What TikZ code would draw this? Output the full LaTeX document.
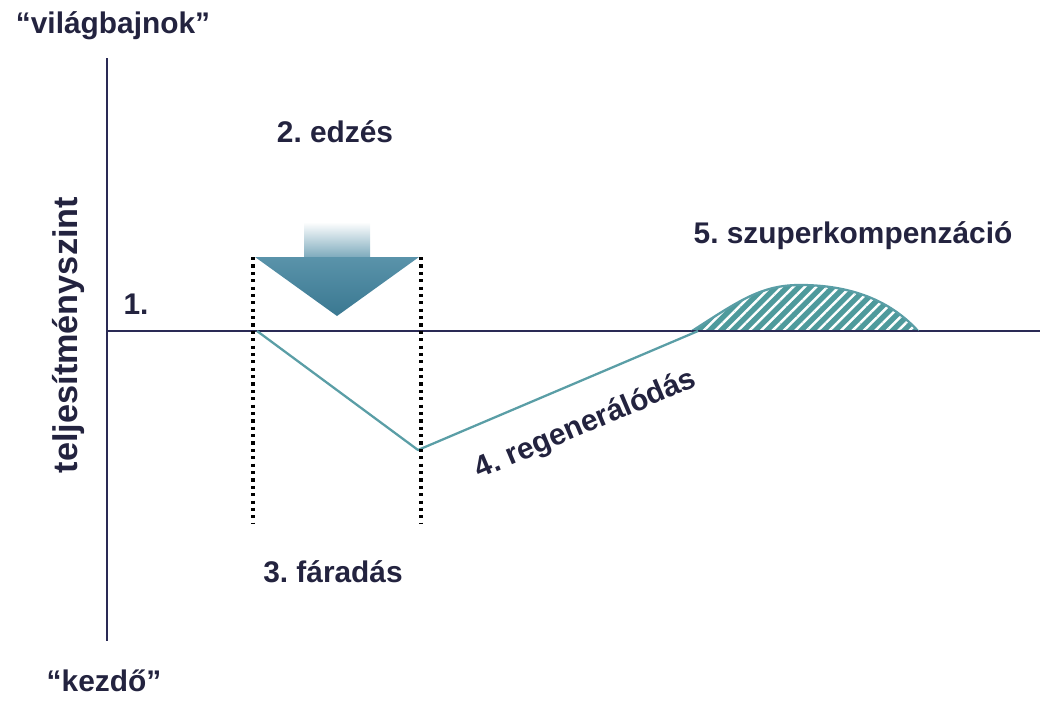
\documentclass[tikz,border=0pt]{standalone}
\usepackage{fontspec}
\setmainfont{Liberation Sans}
\usetikzlibrary{patterns.meta}
\definecolor{Navy}{HTML}{23233F}
\definecolor{Axis}{HTML}{2A2A55}
\definecolor{Teal}{HTML}{5A9EA6}
\definecolor{Hatch}{HTML}{4E9A9C}
\definecolor{ArrowTop}{HTML}{5A93AA}
\definecolor{ArrowBot}{HTML}{3A7891}
\tikzset{
    label/.style={text=Navy, font=\fontsize{17}{20}\selectfont\bfseries, anchor=base, inner sep=0pt},
    axis/.style={Axis, line width=1.7pt},
    curve/.style={Teal, line width=1.3pt, line join=round},
    guide/.style={black, line width=1.8pt, dash pattern=on 1.8pt off 2.4pt},
}

\begin{document}
\frenchspacing
\begin{tikzpicture}[x=0.02cm, y=-0.02cm]
                \useasboundingbox (0,0) rectangle (1044,703);

                % Tengelyek
                \coordinate (top) at (107,58);
                \coordinate (bottom) at (107,641);
                \coordinate (origin) at (107,331);
                \coordinate (end) at (1040,331);
                \draw[axis] (top) -- (bottom);
                \draw[axis] (origin) -- (end);

                % Feliratok
                \node[label] (champ) at (113,33) {“világbajnok”};
                \node[label] (novice) at (104,691) {“kezdő”};
                \node[label, anchor=center, rotate=90, font=\fontsize{19.5}{22}\selectfont\bfseries] (level) at (68,335) {teljesítményszint};
                \node[label] (one) at (136,314) {1.};
                \node[label] (train) at (335,142) {2. edzés};
                \node[label] (tired) at (333,582) {3. fáradás};
                \node[label] (super) at (853,243) {5. szuperkompenzáció};
                \node[label, anchor=center, rotate=23] (regen) at (586,425) {4. regenerálódás};

                % Szuperkompenzacio
                \coordinate (hl) at (692,331);
                \coordinate (hr) at (918,331);
                \fill[Hatch] (hl) .. controls (740,300) and (762,285) .. (800,285)
                    .. controls (850,285) and (890,300) .. (hr) -- cycle;
                \fill[pattern={Lines[angle=45, distance=4.6pt, line width=1.4pt]}, pattern color=white]
                    (hl) .. controls (740,300) and (762,285) .. (800,285)
                    .. controls (850,285) and (890,300) .. (hr) -- cycle;
                \draw[curve] (hl) .. controls (740,300) and (762,285) .. (800,285)
                    .. controls (850,285) and (890,300) .. (hr);
                \draw[axis] (hl) -- (hr);

                % Teljesitmeny gorbe
                \coordinate (start) at (257,331);
                \coordinate (low) at (418,450);
                \coordinate (back) at (698,331);
                \draw[curve] (start) -- (low) -- (back);

                % Pontozott vonalak
                \coordinate (g1) at (253,257);
                \coordinate (g2) at (421,257);
                \draw[guide] (g1) -- (253,523);
                \draw[guide] (g2) -- (421,523);

                % Nyil
                \shade[top color=white, bottom color=ArrowTop!80] (304,222) rectangle (370,258);
                \shade[top color=ArrowTop, bottom color=ArrowBot] (255,257) -- (419,257) -- (337,316) -- cycle;
            \end{tikzpicture}
\end{document}
